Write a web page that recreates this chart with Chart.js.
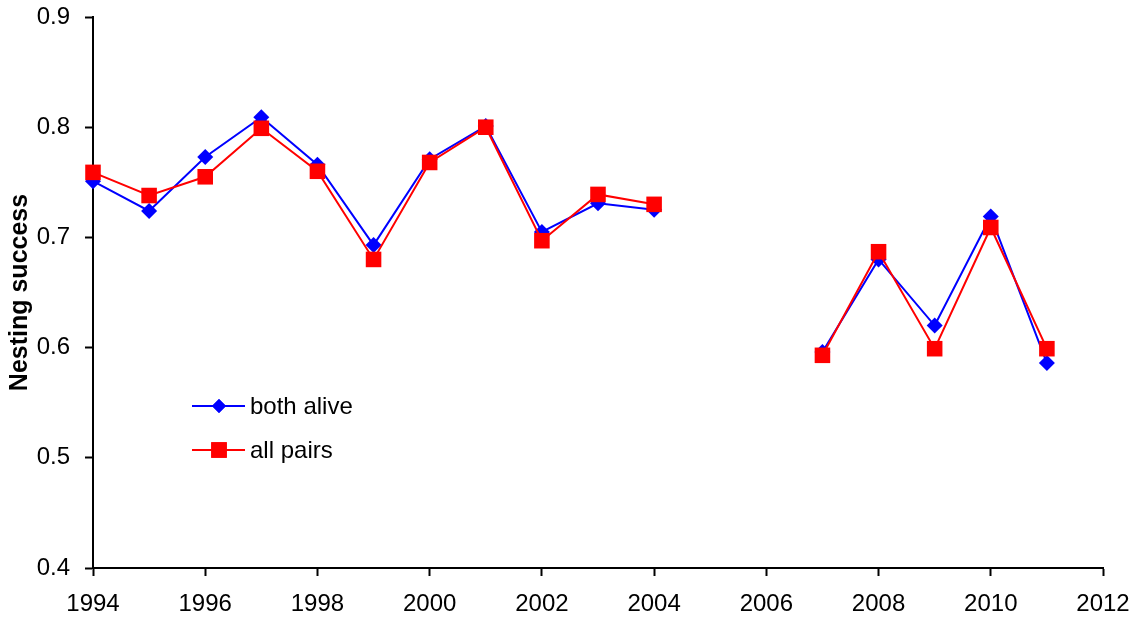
<!DOCTYPE html>
<html>
<head>
<meta charset="utf-8">
<script src="https://cdn.jsdelivr.net/npm/chart.js@4/dist/chart.umd.min.js"></script>
<style>
  html, body { margin: 0; padding: 0; background: #fff; }
  #wrap { width: 1143px; height: 623px; }
</style>
</head>
<body>
<div id="wrap"><canvas id="chart" width="1143" height="623"></canvas></div>
<script>
const years = [1994, 1995, 1996, 1997, 1998, 1999, 2000, 2001, 2002, 2003, 2004, 2005, 2006, 2007, 2008, 2009, 2010, 2011];
const bothAlive = [0.751, 0.724, 0.773, 0.809, 0.766, 0.693, 0.771, 0.801, 0.705, 0.731, 0.725, null, null, 0.596, 0.680, 0.620, 0.719, 0.586];
const allPairs = [0.759, 0.738, 0.755, 0.799, 0.760, 0.680, 0.768, 0.800, 0.697, 0.739, 0.730, null, null, 0.593, 0.687, 0.599, 0.709, 0.599];
const xTicks = [1994, 1996, 1998, 2000, 2002, 2004, 2006, 2008, 2010, 2012];
const yTicks = [0.4, 0.5, 0.6, 0.7, 0.8, 0.9];

const FONT = "'Liberation Sans', Arial, sans-serif";

function toPoints(vals) {
  return years.map((yr, i) => ({ x: yr, y: vals[i] }));
}

// legend sits inside the plot, like the original
const insideLegend = {
  id: 'insideLegend',
  afterDraw(chart) {
    const ctx = chart.ctx;
    const items = [
      { label: 'both alive', color: '#0000ff', style: 'rectRot', radius: 7, y: 406 },
      { label: 'all pairs', color: '#ff0000', style: 'rect', radius: 11, y: 450 }
    ];
    ctx.save();
    items.forEach(it => {
      ctx.strokeStyle = it.color;
      ctx.lineWidth = 2;
      ctx.beginPath();
      ctx.moveTo(192, it.y);
      ctx.lineTo(245, it.y);
      ctx.stroke();
      ctx.fillStyle = it.color;
      Chart.helpers.drawPoint(ctx, { pointStyle: it.style, radius: it.radius, borderWidth: 0 }, 219, it.y);
      ctx.fill();
      ctx.fillStyle = '#000';
      ctx.font = '24px ' + FONT;
      ctx.textBaseline = 'middle';
      ctx.textAlign = 'left';
      ctx.fillText(it.label, 250, it.y + 1);
    });
    ctx.restore();
  }
};

const axisGrid = {
  display: true,
  drawOnChartArea: false,
  drawTicks: true,
  tickLength: 8,
  tickWidth: 2,
  color: '#000'
};

new Chart(document.getElementById('chart'), {
  type: 'line',
  data: {
    datasets: [
      {
        label: 'both alive',
        data: toPoints(bothAlive),
        borderColor: '#0000ff',
        backgroundColor: '#0000ff',
        borderWidth: 2,
        pointStyle: 'rectRot',
        pointRadius: 8,
        pointBorderWidth: 0,
        spanGaps: false,
        clip: false,
        order: 2
      },
      {
        label: 'all pairs',
        data: toPoints(allPairs),
        borderColor: '#ff0000',
        backgroundColor: '#ff0000',
        borderWidth: 2,
        pointStyle: 'rect',
        pointRadius: 11,
        pointBorderWidth: 0,
        spanGaps: false,
        clip: false,
        order: 1
      }
    ]
  },
  options: {
    responsive: false,
    animation: false,
    layout: { padding: { left: 0, right: 40, top: 17, bottom: 0 } },
    plugins: {
      legend: { display: false },
      tooltip: { enabled: false }
    },
    scales: {
      x: {
        type: 'linear',
        min: 1994,
        max: 2012,
        afterBuildTicks(scale) {
          scale.ticks = xTicks.map(v => ({ value: v }));
        },
        afterFit(scale) {
          scale.height = 55;
          scale.paddingLeft = 0;
          scale.paddingRight = 0;
        },
        grid: axisGrid,
        border: { display: true, color: '#000', width: 2 },
        ticks: {
          color: '#000',
          font: { family: FONT, size: 24 },
          padding: 14,
          maxRotation: 0,
          callback: v => String(v)
        }
      },
      y: {
        min: 0.4,
        max: 0.9,
        afterBuildTicks(scale) {
          scale.ticks = yTicks.map(v => ({ value: v }));
        },
        afterFit(scale) {
          scale.width = 93;
          scale.paddingTop = 0;
          scale.paddingBottom = 0;
        },
        grid: axisGrid,
        border: { display: true, color: '#000', width: 2 },
        ticks: {
          color: '#000',
          font: { family: FONT, size: 24 },
          padding: 15,
          callback: v => v.toFixed(1)
        },
        title: {
          display: true,
          text: 'Nesting success',
          color: '#000',
          font: { family: FONT, size: 25, weight: 'bold' },
          padding: { top: 5, bottom: 0 }
        }
      }
    }
  },
  plugins: [insideLegend]
});
</script>
</body>
</html>
